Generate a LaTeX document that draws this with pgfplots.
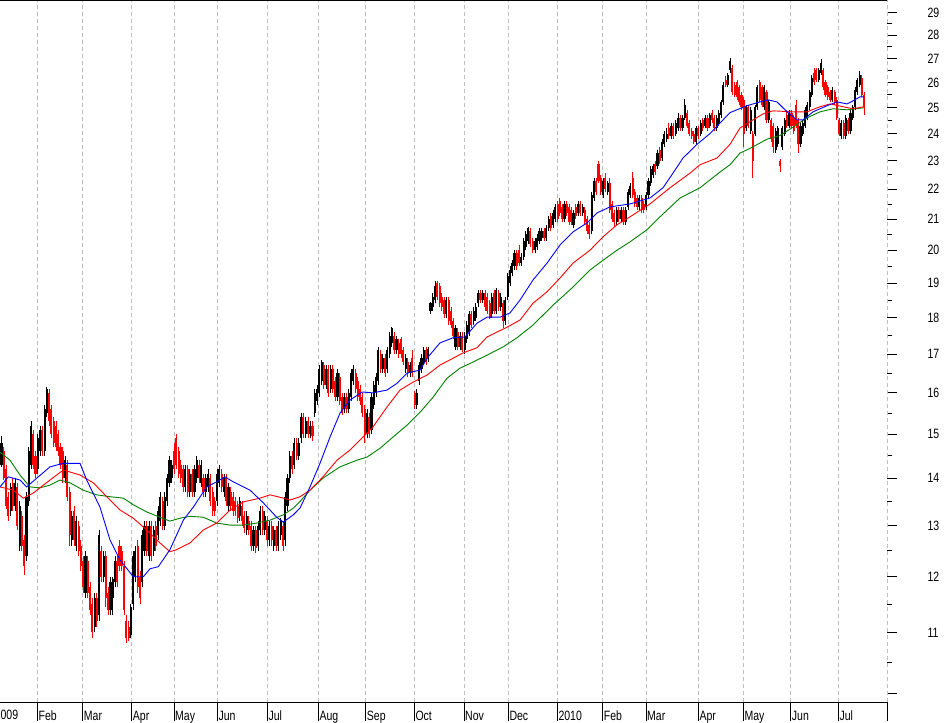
\documentclass[border=0pt]{standalone}
\usepackage{fontspec}
\setmainfont{Liberation Sans}[FakeStretch=0.78]
\usepackage{pgfplots}
\usepackage{pgfplotstable}
\pgfplotsset{compat=1.18}
\definecolor{gridgray}{RGB}{190,190,190}
\definecolor{mablue}{RGB}{0,0,255}
\definecolor{mared}{RGB}{255,0,0}
\definecolor{magreen}{RGB}{0,128,0}
\definecolor{candlered}{RGB}{255,0,0}

% daily candles, one row per trading day (open high low close)
\pgfplotstableread{
o h l c
14.30 14.95 14.25 14.80
14.60 14.70 13.95 14.00
14.20 14.30 13.35 13.40
13.60 13.70 13.10 13.20
13.30 13.90 13.20 13.80
13.90 14.00 13.30 13.40
13.40 14.00 13.30 13.90
13.80 13.90 12.90 13.00
12.60 13.50 12.50 13.40
13.20 13.30 12.50 12.60
12.70 12.80 12.03 12.20
12.40 13.70 12.30 13.60
13.50 14.70 13.40 14.60
14.30 15.30 14.20 15.20
15.00 15.10 14.20 14.30
14.50 14.60 14.00 14.10
14.20 15.00 14.10 14.90
14.60 15.20 14.50 15.10
15.10 15.20 14.50 14.60
14.60 15.70 14.50 15.60
15.50 16.15 15.40 16.10
16.00 16.10 15.20 15.30
15.60 15.70 14.90 15.00
15.30 15.40 14.70 14.80
15.20 15.30 14.60 14.70
15.00 15.10 14.50 14.60
14.70 14.80 14.20 14.30
14.60 14.70 13.90 14.00
14.00 14.50 13.90 14.40
14.30 14.40 13.50 13.60
13.70 13.80 12.60 12.80
12.70 13.30 12.60 13.20
13.30 13.40 12.60 12.70
12.60 13.20 12.50 13.10
13.00 13.10 12.40 12.50
12.60 12.70 12.10 12.20
12.30 12.40 11.70 11.80
11.70 12.50 11.60 12.40
12.30 12.40 11.60 11.70
11.80 11.90 11.30 11.40
11.50 11.60 10.90 11.00
11.10 11.70 11.00 11.60
11.60 11.70 11.10 11.20
11.30 12.90 11.20 12.80
12.50 12.60 11.90 12.00
12.00 12.50 11.90 12.40
12.40 12.50 11.45 11.60
11.70 11.80 11.30 11.40
11.40 12.00 11.30 11.90
11.60 12.00 11.30 11.95
11.90 12.40 11.80 12.30
12.30 12.40 11.80 11.90
12.60 12.70 12.10 12.20
12.50 12.60 12.10 12.20
12.20 12.30 11.30 11.40
11.20 11.30 10.82 10.90
11.10 11.20 10.85 10.90
10.95 11.50 10.90 11.45
11.50 12.50 11.40 12.40
12.00 12.60 11.90 12.50
12.60 12.70 11.70 11.80
12.00 12.10 11.50 11.60
11.90 12.90 11.80 12.80
12.50 13.10 12.40 13.00
13.00 13.10 12.40 12.50
12.40 13.10 12.30 13.00
13.00 13.10 12.30 12.40
12.50 13.00 12.40 12.90
13.00 13.10 12.50 12.60
12.80 13.40 12.70 13.30
13.10 13.70 13.00 13.60
13.50 13.60 12.90 13.00
13.00 13.70 12.90 13.60
13.50 14.10 13.40 14.00
13.90 14.50 13.80 14.40
14.00 14.40 13.90 14.30
14.60 14.80 14.10 14.20
14.90 15.00 14.20 14.30
14.60 14.70 14.00 14.10
14.30 14.40 13.90 14.00
14.20 14.30 13.70 13.80
13.80 14.30 13.70 14.20
14.20 14.30 13.60 13.70
13.70 14.20 13.60 14.10
14.10 14.20 13.60 13.70
13.70 14.30 13.60 14.20
14.00 14.50 13.90 14.40
14.30 14.40 13.90 14.00
13.90 14.40 13.80 14.30
14.00 14.10 13.60 13.70
13.70 14.10 13.60 14.00
13.80 14.20 13.70 14.10
14.00 14.10 13.40 13.50
13.70 13.80 13.20 13.30
13.50 13.60 13.20 13.30
13.50 14.20 13.40 14.10
13.90 14.30 13.80 14.20
14.10 14.20 13.70 13.80
13.70 14.10 13.60 14.00
14.00 14.10 13.40 13.50
13.40 13.90 13.30 13.80
13.70 13.80 13.30 13.40
13.60 13.70 13.20 13.30
13.50 13.60 13.20 13.30
13.40 13.50 13.05 13.15
13.20 13.60 13.10 13.50
13.40 13.50 13.00 13.10
13.20 13.30 12.85 12.95
12.90 13.30 12.80 13.20
13.10 13.20 12.80 12.90
13.00 13.10 12.50 12.60
12.60 13.00 12.50 12.90
12.90 13.00 12.45 12.55
12.60 13.10 12.50 13.00
12.90 13.40 12.80 13.30
13.30 13.40 12.80 12.90
12.90 13.30 12.80 13.20
13.10 13.20 12.60 12.70
12.70 13.10 12.60 13.00
13.00 13.10 12.60 12.70
12.60 13.00 12.50 12.90
12.90 13.00 12.50 12.60
12.60 13.10 12.50 13.00
12.80 13.15 12.70 13.10
13.00 13.10 12.50 12.60
12.70 13.70 12.60 13.60
13.40 14.10 13.30 14.00
14.00 14.60 13.90 14.50
14.50 14.60 14.10 14.20
14.30 14.90 14.20 14.80
14.80 14.90 14.40 14.50
14.50 14.90 14.40 14.80
14.90 15.50 14.80 15.40
15.40 15.50 14.90 15.00
15.00 15.40 14.90 15.30
15.30 15.40 14.90 15.00
15.00 15.30 14.90 15.20
15.20 15.30 14.85 14.95
15.50 16.10 15.40 16.00
15.80 16.20 15.70 16.10
16.00 16.70 15.90 16.60
16.30 16.85 16.20 16.80
16.70 16.80 16.10 16.20
16.20 16.70 16.10 16.60
16.60 16.70 15.90 16.00
16.10 16.70 16.00 16.60
16.60 16.70 16.00 16.10
16.30 16.40 15.80 15.90
15.90 16.60 15.80 16.50
16.40 16.50 15.70 15.80
15.90 16.00 15.45 15.50
15.60 16.00 15.50 15.90
15.90 16.00 15.50 15.60
15.60 16.10 15.50 16.00
15.90 16.60 15.80 16.50
16.30 16.70 16.20 16.60
16.50 16.60 16.00 16.10
16.30 16.40 15.80 15.90
16.10 16.20 15.70 15.80
15.90 16.00 15.40 15.50
15.60 15.70 14.80 15.00
15.00 15.60 14.90 15.50
15.40 15.50 14.90 15.00
15.10 16.00 15.00 15.90
15.70 16.30 15.60 16.20
16.00 16.50 15.90 16.40
16.30 17.20 16.20 17.10
17.00 17.10 16.50 16.60
16.60 17.00 16.50 16.90
16.90 17.00 16.40 16.50
16.60 17.20 16.50 17.10
17.00 17.60 16.90 17.50
17.30 17.75 17.20 17.70
17.50 17.60 17.00 17.10
17.10 17.50 17.00 17.40
17.30 17.40 16.90 17.00
17.40 17.45 16.90 17.00
17.10 17.20 16.70 16.80
16.60 17.00 16.50 16.90
16.80 16.90 16.40 16.50
16.50 16.80 16.40 16.70
16.90 17.10 16.40 16.50
16.00 16.05 15.60 15.70
15.70 16.10 15.60 16.00
16.30 16.80 16.20 16.70
16.60 17.00 16.50 16.90
16.80 17.20 16.70 17.10
17.10 17.20 16.70 16.80
16.90 17.20 16.80 17.15
18.20 18.45 18.10 18.40
18.30 18.70 18.20 18.60
18.50 19.05 18.40 18.90
19.00 19.05 18.50 18.60
18.90 19.00 18.30 18.40
18.60 18.70 18.20 18.30
18.50 18.60 18.00 18.10
18.10 18.60 18.00 18.50
18.50 18.60 17.80 17.90
18.20 18.30 17.70 17.80
17.90 18.00 17.40 17.50
17.20 17.80 17.10 17.70
17.60 17.70 17.10 17.20
17.20 17.60 17.10 17.50
17.50 17.60 17.05 17.10
17.10 17.60 17.00 17.50
17.40 17.90 17.30 17.80
17.60 18.20 17.50 18.10
18.10 18.20 17.70 17.80
17.90 18.30 17.80 18.20
18.00 18.40 17.90 18.30
18.40 18.80 18.30 18.70
18.70 18.80 18.40 18.50
18.50 18.80 18.40 18.70
18.70 18.80 18.20 18.30
18.60 18.70 18.10 18.20
18.40 18.50 17.95 18.00
18.10 18.70 18.00 18.60
18.70 18.80 18.10 18.20
18.20 18.85 18.10 18.80
18.70 18.80 18.20 18.30
18.30 18.70 18.20 18.60
18.40 18.50 17.70 17.90
17.90 18.60 17.80 18.50
18.60 19.30 18.50 19.20
19.00 19.50 18.90 19.40
19.30 19.70 19.20 19.60
19.50 20.00 19.40 19.90
19.90 20.00 19.40 19.50
20.00 20.15 19.50 19.60
19.60 19.90 19.50 19.80
19.80 20.40 19.70 20.30
20.10 20.60 20.00 20.50
20.30 20.75 20.20 20.70
20.60 20.70 20.10 20.20
20.30 20.40 19.90 20.00
20.00 20.40 19.90 20.30
20.10 20.50 20.00 20.40
20.30 20.70 20.20 20.60
20.40 20.70 20.30 20.60
20.60 20.70 20.30 20.40
20.40 20.80 20.30 20.70
20.70 21.10 20.60 21.00
21.10 21.20 20.60 20.70
20.80 21.30 20.70 21.20
21.00 21.50 20.90 21.40
21.50 21.60 20.90 21.00
21.60 21.70 21.10 21.20
21.40 21.50 20.90 21.00
21.00 21.60 20.90 21.50
21.50 21.60 21.10 21.20
21.40 21.50 20.80 20.90
21.30 21.40 20.80 20.90
20.80 21.30 20.70 21.20
21.40 21.50 21.00 21.10
21.20 21.60 21.10 21.50
21.50 21.60 21.10 21.20
21.20 21.50 21.10 21.40
21.30 21.40 20.80 20.90
21.00 21.10 20.50 20.60
20.80 20.90 20.35 20.50
20.60 21.90 20.50 21.80
21.70 22.40 21.60 22.30
22.30 22.40 21.80 21.90
22.90 23.00 22.20 22.30
22.40 22.50 21.80 21.90
21.80 22.40 21.70 22.30
22.40 22.55 21.90 22.00
21.90 22.30 21.80 22.20
22.20 22.40 21.20 21.30
21.50 21.60 20.90 21.00
21.20 21.30 20.75 20.90
20.90 21.40 20.80 21.30
21.30 21.40 20.90 21.00
21.00 21.40 20.90 21.30
21.30 21.40 20.80 20.90
20.90 21.40 20.80 21.30
21.40 22.00 21.30 21.90
21.80 22.20 21.70 22.10
22.40 22.60 21.70 21.80
21.90 22.00 21.40 21.50
21.70 21.80 21.30 21.40
21.40 21.80 21.30 21.70
21.70 21.80 21.20 21.30
21.50 21.60 21.20 21.30
21.40 21.90 21.30 21.80
21.80 22.40 21.70 22.30
22.20 22.80 22.10 22.70
22.50 22.90 22.40 22.80
22.90 23.00 22.50 22.60
22.80 23.40 22.70 23.30
23.40 23.50 22.90 23.00
23.10 23.80 23.00 23.70
23.60 24.10 23.50 24.00
23.80 24.20 23.70 24.00
24.20 24.40 23.80 23.90
23.90 24.40 23.80 24.30
24.30 24.40 23.80 23.90
24.00 24.50 23.90 24.40
24.20 24.80 24.10 24.60
24.60 24.70 24.10 24.20
24.20 24.70 24.10 24.60
24.60 25.35 24.50 25.10
24.80 24.90 24.20 24.30
24.40 24.50 23.90 24.00
24.10 24.20 23.80 23.90
24.00 24.10 23.60 23.70
23.70 24.30 23.60 24.20
24.20 24.30 23.80 23.90
24.00 24.50 23.90 24.40
24.50 24.60 24.10 24.20
24.30 24.70 24.20 24.60
24.60 24.70 24.10 24.20
24.30 24.80 24.20 24.70
24.80 24.90 24.40 24.50
24.60 24.70 24.10 24.20
24.20 24.70 24.10 24.60
24.40 24.90 24.30 24.80
24.70 25.30 24.60 25.20
25.20 26.00 25.10 25.90
26.10 26.25 25.80 25.90
25.90 26.40 25.80 26.30
26.50 27.00 26.40 26.90
26.60 26.70 25.50 25.60
25.90 26.00 25.40 25.50
26.00 26.10 25.30 25.40
25.80 25.90 25.10 25.20
25.50 25.60 24.90 25.00
25.30 25.40 23.50 24.00
24.20 25.10 24.10 25.00
25.00 25.10 24.20 24.30
24.10 25.00 24.00 24.90
24.00 24.10 22.40 23.00
24.00 25.10 23.90 25.00
25.00 25.90 24.90 25.80
26.00 26.10 25.20 25.30
25.80 25.90 25.00 25.10
25.00 25.90 24.90 25.80
25.60 25.70 24.40 24.50
24.50 25.30 24.40 25.20
24.50 24.60 23.70 23.80
24.30 24.40 23.30 23.50
23.40 24.20 23.30 24.10
23.60 24.30 23.50 24.20
23.00 23.05 22.60 22.80
23.50 24.30 23.40 24.20
24.00 24.60 23.90 24.50
24.70 24.90 24.20 24.30
24.30 24.90 24.20 24.80
24.80 24.90 24.20 24.30
24.60 24.70 24.00 24.10
25.10 25.30 24.20 24.30
24.50 24.60 23.30 23.60
23.60 24.40 23.50 24.30
24.00 24.50 23.90 24.40
24.30 25.00 24.20 24.90
24.60 25.20 24.50 25.10
25.00 25.70 24.90 25.60
25.50 26.30 25.40 26.20
26.40 26.60 25.90 26.00
26.50 26.60 26.00 26.10
26.10 26.60 26.00 26.50
26.40 26.95 26.30 26.80
26.50 26.60 25.70 25.80
26.00 26.10 25.40 25.50
25.80 25.90 25.30 25.40
25.60 25.70 25.20 25.30
25.30 25.80 25.20 25.70
25.60 25.70 25.10 25.20
25.30 25.40 24.50 24.60
24.50 24.60 23.90 24.00
23.90 24.50 23.80 24.40
24.40 24.50 23.80 23.90
23.90 24.70 23.80 24.60
24.50 24.60 24.00 24.10
24.10 24.90 24.00 24.80
24.60 25.10 24.50 25.00
25.00 25.80 24.90 25.70
25.60 26.20 25.50 26.10
25.90 26.45 25.80 26.30
26.20 26.30 25.40 25.50
25.50 25.60 24.70 25.00
}\ohlc

\begin{document}
\begin{tikzpicture}
\begin{axis}[
  name=ax,
  scale only axis,
  width=887.3pt, height=702pt,
  xmin=0, xmax=887.3,
  ymode=log, ymin=9.865, ymax=29.58,
  axis x line*=bottom,
  axis y line*=right,
  x axis line style={black, line width=0.8pt, -},
  y axis line style={draw=gridgray, line width=0.8pt, dash pattern=on 4pt off 3pt, -},
  tick align=outside,
  major tick length=10pt,
  minor tick length=5pt,
  tick style={black, line width=0.8pt},
  xtick=\empty,
  extra x ticks={37.5,82.7,131.7,174,217.3,267.3,318.3,365.7,414.3,464,508.3,557.3,602.7,646,698.3,743.3,790.7,838.3,887.3},
  extra x tick labels={Feb,Mar,Apr,May,Jun,Jul,Aug,Sep,Oct,Nov,Dec,2010,Feb,Mar,Apr,May,Jun,Jul,{}},
  extra x tick style={major tick length=19pt, grid=major},
  major grid style={gridgray, line width=0.8pt, dash pattern=on 4pt off 3pt},
  minor xtick={4.7,15.3,26,47.7,59.3,70.7,94,105,116,127.7,142.3,153.3,164.7,185,196.7,207.7,228.3,240,251,262.3,276.7,288.3,299.3,310,328.3,340,350,361.7,376.7,387.7,398.3,409.3,426.7,438.3,449.3,460.7,473.3,486,496.7,520,531,542.7,551.7,568.3,580,591,613.3,625,636,656.7,668,678.3,690,710,720,731.7,754.3,766.7,778.3,800,811.7,822.7,835,846.7,858.3,870,880.7},
  ytick={10,11,12,13,14,15,16,17,18,19,20,21,22,23,24,25,26,27,28,29},
  yticklabels={,11,12,13,14,15,16,17,18,19,20,21,22,23,24,25,26,27,28,29},
  minor ytick={10.5,11.5,12.5,13.5,14.5,15.5,16.5,17.5,18.5,19.5,20.5,21.5,22.5,23.5,24.5,25.5,26.5,27.5,28.5},
  tick label style={font=\fontsize{13.5pt}{16pt}\selectfont},
  xticklabel style={anchor=base west, inner sep=0pt, xshift=1pt},
  yticklabel style={anchor=west, inner sep=0pt, xshift=30pt},
]
% wicks
\addplot[draw=none, no markers, forget plot,
  restrict expr to domain={\thisrow{c}-\thisrow{o}}{0:100},
  error bars/.cd, y dir=plus, y explicit, error mark=none,
  error bar style={draw=black, solid, line width=0.9pt}]
  table[x expr=\coordindex*2.27+1.5, y=l, y error expr=\thisrow{h}-\thisrow{l}] {\ohlc};
\addplot[draw=none, no markers, forget plot,
  restrict expr to domain={\thisrow{c}-\thisrow{o}}{-100:-0.001},
  error bars/.cd, y dir=plus, y explicit, error mark=none,
  error bar style={draw=candlered, solid, line width=0.9pt}]
  table[x expr=\coordindex*2.27+1.5, y=l, y error expr=\thisrow{h}-\thisrow{l}] {\ohlc};
% bodies
\addplot[draw=none, no markers, forget plot,
  restrict expr to domain={\thisrow{c}-\thisrow{o}}{0:100},
  error bars/.cd, y dir=plus, y explicit, error mark=none,
  error bar style={draw=black, solid, line width=2.1pt}]
  table[x expr=\coordindex*2.27+1.5, y=o, y error expr=\thisrow{c}-\thisrow{o}] {\ohlc};
\addplot[draw=none, no markers, forget plot,
  restrict expr to domain={\thisrow{c}-\thisrow{o}}{-100:-0.001},
  error bars/.cd, y dir=plus, y explicit, error mark=none,
  error bar style={draw=candlered, solid, line width=2.1pt}]
  table[x expr=\coordindex*2.27+1.5, y=c, y error expr=\thisrow{o}-\thisrow{c}] {\ohlc};

% moving averages
\addplot[magreen, line width=0.9pt, mark=none] coordinates {
(0,14.58)(10,14.40)(20,14.07)(30,13.81)(40,13.79)(50,13.85)(60,13.96)(70,13.9)(83.3,13.74)(96.7,13.64)(110,13.6)(123.3,13.57)(133.3,13.43)(146.7,13.28)(160,13.17)(170,13.09)(180,13.15)(190,13.19)(203.3,13.17)(216.7,13.05)(230,13.01)(243.3,13.01)(256.7,13.05)(270,13.11)(283.3,13.22)(293.3,13.36)(300,13.5)(310,13.74)(323,14.0)(340,14.25)(357,14.40)(367,14.47)(380,14.67)(393,14.93)(407,15.21)(420,15.52)(433,15.89)(447,16.37)(460,16.63)(473,16.79)(487,16.97)(503,17.19)(517,17.44)(533,17.79)(553,18.35)(573,18.88)(590,19.39)(603,19.69)(617,20.0)(630,20.26)(647,20.65)(660,21.07)(680,21.7)(700,22.05)(720,22.6)(730,22.86)(740,23.28)(750,23.45)(767,23.79)(780,23.93)(793,24.24)(807,24.6)(820,24.83)(833,24.95)(847,24.91)(864,24.99)
};
\addplot[mared, line width=0.9pt, mark=none] coordinates {
(0,13.81)(13.3,13.74)(23.3,13.57)(33.3,13.68)(50,13.96)(63.3,14.18)(80,14.07)(93.3,13.9)(106.7,13.6)(120,13.32)(133.3,13.15)(146.7,12.91)(160,12.65)(170,12.48)(176.7,12.52)(190,12.65)(203.3,12.91)(216.7,13.05)(230,13.32)(243.3,13.49)(260,13.57)(270,13.64)(283.3,13.57)(290,13.53)(300,13.6)(310,13.74)(323,14.03)(337,14.40)(350,14.63)(363,14.93)(373,15.17)(387,15.65)(400,16.07)(413,16.27)(427,16.45)(440,16.71)(453,16.89)(463,17.03)(477,17.17)(487,17.46)(507,17.73)(520,17.93)(533,18.41)(547,18.74)(560,19.15)(573,19.6)(590,20.0)(603,20.42)(617,20.81)(630,21.07)(650,21.5)(670,22.05)(690,22.56)(700,22.86)(717,23.1)(730,23.6)(740,24.21)(753,24.52)(763,24.75)(773,24.87)(793,24.83)(807,24.83)(820,25.03)(830,25.14)(843,25.03)(853,24.95)(864,25.03)
};
\addplot[mablue, line width=0.9pt, mark=none] coordinates {
(0,13.81)(8.3,14.03)(20,13.96)(26.7,13.81)(36.7,14.0)(50,14.25)(63.3,14.33)(80,14.33)(86.7,13.96)(100,13.38)(110,12.71)(120,12.32)(133.3,12.0)(143.3,12.0)(150,12.15)(158.3,12.19)(170,12.52)(183.3,13.11)(193.3,13.38)(206.7,13.81)(216.7,13.92)(225,14.03)(233.3,13.92)(250,13.74)(263.3,13.47)(276.7,13.17)(283.3,13.07)(293.3,13.22)(300,13.36)(310,13.81)(320,14.33)(330,14.93)(340,15.5)(350,15.82)(362,16.02)(373,16.0)(387,16.07)(397,16.24)(407,16.5)(420,16.58)(428,16.92)(440,17.30)(453,17.44)(465,17.46)(477,17.84)(487,18.01)(500,18.01)(510,18.13)(520,18.50)(533,19.09)(547,19.60)(560,20.16)(573,20.58)(587,20.87)(597,21.20)(610,21.40)(630,21.5)(650,21.7)(663,22.05)(673,22.56)(683,23.1)(697,23.6)(710,24.0)(720,24.4)(730,24.8)(747,25.07)(760,25.22)(768,25.30)(777,25.22)(787,24.83)(797,24.52)(803,24.52)(813,24.83)(827,25.07)(837,25.22)(847,25.14)(853,25.26)(860,25.42)(864,25.42)
};
\end{axis}
\draw[black, line width=0.8pt] (ax.north west) -- (ax.north east);
\node[anchor=base west, inner sep=0pt, font=\fontsize{13.5pt}{16pt}\selectfont]
  at ([xshift=-5.5pt, yshift=-17.3pt]ax.south west) {2009};
\pgfresetboundingbox
\path[use as bounding box] ([yshift=-21pt]ax.south west) rectangle ([xshift=58.7pt]ax.north east);
\end{tikzpicture}
\end{document}
